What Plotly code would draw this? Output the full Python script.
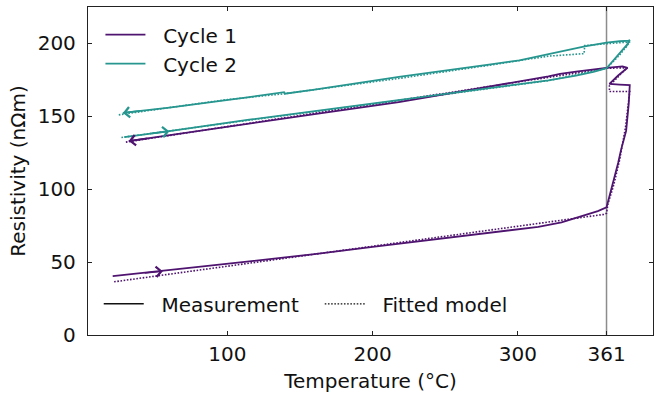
import plotly.graph_objects as go

# ---- data ----
c1_meas_T = [21, 35, 55, 80, 115, 160, 200, 245, 280, 314, 330, 342, 355, 361, 363, 365.5, 369, 371, 374.5, 376.3, 377,
             370, 363, 369, 375.5, 372, 366, 361, 340, 329, 321, 280, 218, 160, 115, 60, 32]
c1_meas_R = [40.4, 41.8, 43.8, 46.7, 50.5, 55.5, 60.5, 66, 70, 74.2, 77.3, 81, 85, 87.5, 95, 104, 118, 127, 140, 158.7, 171.5,
             171.8, 172.2, 178, 183.3, 184.3, 184, 183.3, 180.7, 179.2, 177.4, 170.5, 159.8, 151.5, 145, 137, 133]

c1_fit_T = [22, 100, 200, 300, 359, 361, 362, 366, 370, 374, 377, 363, 363, 375, 364, 361, 300, 200, 100, 30]
c1_fit_R = [36.5, 47.2, 60.9, 74.6, 82.7, 83.5, 90, 103, 120, 142, 167, 167, 171, 183.3, 183.3, 183, 173.5, 158.3, 143.3, 132.3]

c2_meas_T = [29, 45, 60, 115, 160, 218, 260, 321, 340, 352, 361, 366, 371, 375, 377, 374, 377, 370, 361, 346, 321, 301,
             280, 218, 160, 139.5, 139, 115, 60, 28]
c2_meas_R = [135.8, 137.8, 139.8, 147.7, 153.5, 161, 166.5, 174.7, 178, 180.5, 183, 188.5, 194, 199, 202.5, 197, 202,
             201.5, 200.5, 198, 192.5, 188.4, 185.5, 177, 168.3, 165.5, 166.6, 163.2, 156, 152.3]

c2_fit_T = [27, 60, 115, 218, 321, 361, 370, 377, 361, 346, 345.5, 321, 280, 218, 139, 100, 60, 25]
c2_fit_R = [135.5, 140, 147.4, 160.8, 174.5, 183, 192, 201, 199.6, 198.6, 193, 191.3, 185, 176, 165.5, 161.5, 156, 151]

# arrows: (tip T, tip R, tail T, tail R, series)
arrows = [
    (55.5, 43.8, 42, 42.4, 1),
    (32, 133, 46, 135, 1),
    (60, 139.8, 47, 138.2, 2),
    (28, 152.3, 41, 153.9, 2),
]

x_ticks = [100, 200, 300, 361]
y_ticks = [0, 50, 100, 150, 200]
transition_T = 361

PURPLE = "#4f1470"
TEAL = "#27968f"
FONT = "DejaVu Sans"
TXT = "#111111"
DOTS = "1.6px,1.6px"

fig = go.Figure()

fig.add_trace(go.Scatter(x=c1_fit_T, y=c1_fit_R, mode="lines", showlegend=False,
                         line=dict(color=PURPLE, width=1.6, dash=DOTS)))
fig.add_trace(go.Scatter(x=c2_fit_T, y=c2_fit_R, mode="lines", showlegend=False,
                         line=dict(color=TEAL, width=1.6, dash=DOTS)))
fig.add_trace(go.Scatter(x=c1_meas_T, y=c1_meas_R, mode="lines", name="  Cycle 1", legendgroup="c1",
                         line=dict(color=PURPLE, width=1.8)))
fig.add_trace(go.Scatter(x=c2_meas_T, y=c2_meas_R, mode="lines", name="  Cycle 2", legendgroup="c2",
                         line=dict(color=TEAL, width=1.8)))

fig.add_trace(go.Scatter(x=[None], y=[None], mode="lines", name="  Measurement", legend="legend2",
                         line=dict(color="#111111", width=1.5)))
fig.add_trace(go.Scatter(x=[None], y=[None], mode="lines", name="  Fitted model", legend="legend2",
                         line=dict(color="#111111", width=1.3, dash=DOTS)))

for tx, ty, ax_, ay_, s in arrows:
    fig.add_annotation(x=tx, y=ty, ax=ax_, ay=ay_, xref="x", yref="y", axref="x", ayref="y",
                       text="", showarrow=True, arrowhead=4, arrowsize=1.25, arrowwidth=1.6,
                       arrowcolor=PURPLE if s == 1 else TEAL, standoff=0)

fig.add_shape(type="line", x0=transition_T, x1=transition_T, y0=0, y1=1, xref="x", yref="paper",
              line=dict(color="#8c8c8c", width=1.5), layer="below")

axis_common = dict(showgrid=False, zeroline=False, showline=True, linecolor="#222222", linewidth=1.3,
                   mirror="ticks", ticks="inside", ticklen=4, tickwidth=1.2, tickcolor="#222222",
                   automargin=False, tickfont=dict(family=FONT, size=20, color=TXT))

fig.update_xaxes(range=[4, 393], tickvals=x_ticks, ticktext=[str(v) for v in x_ticks],
                 title=dict(text="Temperature (°C)", font=dict(family=FONT, size=20, color=TXT), standoff=8),
                 ticklabelstandoff=1, **axis_common)
fig.update_yaxes(range=[0, 225], tickvals=y_ticks,
                 title=dict(text="Resistivity (nΩm)", font=dict(family=FONT, size=20, color=TXT), standoff=6),
                 ticklabelstandoff=7, **axis_common)

fig.update_layout(
    width=654, height=398,
    margin=dict(l=88, r=1, t=7, b=63, autoexpand=False),
    plot_bgcolor="white", paper_bgcolor="white",
    font=dict(family=FONT, size=20, color=TXT),
    legend=dict(x=0.022, y=0.975, xanchor="left", yanchor="top", bgcolor="rgba(0,0,0,0)",
                font=dict(family=FONT, size=20), tracegroupgap=0, itemwidth=40),
    legend2=dict(x=0.019, y=0.095, xanchor="left", yanchor="middle", orientation="h",
                 bgcolor="rgba(0,0,0,0)", font=dict(family=FONT, size=20), itemwidth=40,
                 entrywidth=166, entrywidthmode="pixels"),
)

fig.write_html("out.html", config={"displayModeBar": False},
               post_script="document.body.style.margin='0';document.body.style.padding='0';")
